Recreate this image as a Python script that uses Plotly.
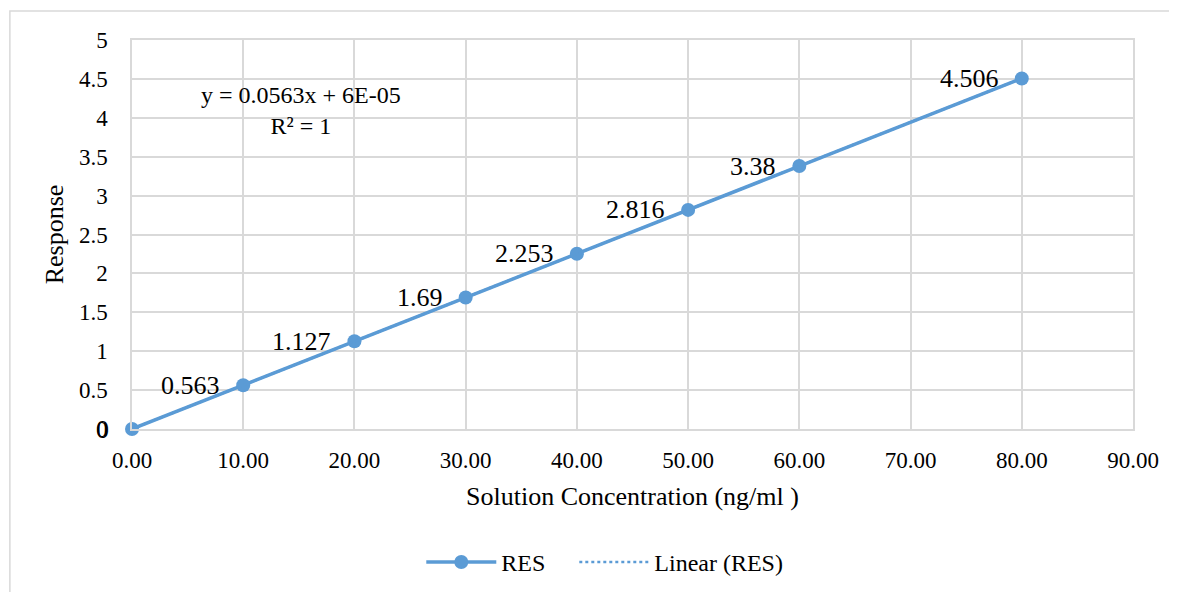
import numpy as np
import plotly.graph_objects as go

concentration = [0, 10, 20, 30, 40, 50, 60, 80]
response = [0, 0.563, 1.127, 1.69, 2.253, 2.816, 3.38, 4.506]
point_labels = ["0", "0.563", "1.127", "1.69", "2.253", "2.816", "3.38", "4.506"]
series_name = "RES"
trend_name = "Linear (RES)"
equation_text = "y = 0.0563x + 6E-05<br>R² = 1"

slope, intercept = np.polyfit(concentration, response, 1)
trend_x = [min(concentration), max(concentration)]
trend_y = [slope * v + intercept for v in trend_x]

FONT = "Liberation Serif, Times New Roman, serif"
BLUE = "#5b9bd5"
GRID = "#d9d9d9"

fig = go.Figure()
fig.add_trace(go.Scatter(
    x=concentration, y=response, mode="lines+markers",
    name=series_name + "\u00a0" * 4, cliponaxis=False,
    line=dict(color=BLUE, width=3.5),
    marker=dict(size=14, color=BLUE),
))
fig.add_trace(go.Scatter(
    x=trend_x, y=trend_y, mode="lines", name=trend_name, cliponaxis=False,
    line=dict(color=BLUE, width=2.5, dash="dot"),
))

for xv, yv, lab in zip(concentration, response, point_labels):
    fig.add_annotation(
        x=xv, y=yv, xref="x", yref="y", text=lab, showarrow=False,
        xanchor="right", yanchor="middle", xshift=-21,
        font=dict(size=26, family=FONT, color="#000000"),
    )

fig.add_annotation(
    x=15.2, y=4.09, xref="x", yref="y", text=equation_text, showarrow=False,
    font=dict(size=24, family=FONT, color="#000000"), align="center",
)

# outer chart border
fig.add_shape(type="rect", xref="paper", yref="paper",
              x0=-0.122, x1=1.06, y0=-0.5, y1=1.0746,
              line=dict(color=GRID, width=1.5), layer="below")

fig.update_layout(
    width=1177, height=592,
    margin=dict(l=124, r=52, t=32, b=171),
    paper_bgcolor="white", plot_bgcolor="white",
    font=dict(family=FONT, size=23, color="#000000"),
    showlegend=True,
    legend=dict(orientation="h", x=0.289, xanchor="left", y=-0.285, yanchor="top",
                itemwidth=70,
                font=dict(size=24, family=FONT)),
)
fig.update_xaxes(
    range=[0, 90], dtick=10, tick0=0, tickformat=".2f",
    showgrid=True, gridcolor=GRID, gridwidth=1.5,
    showline=True, linecolor=GRID, linewidth=1.5, mirror=True,
    zeroline=False, ticks="", ticklabelstandoff=10,
    tickfont=dict(size=23, family=FONT),
    title=dict(text="Solution Concentration (ng/ml )", font=dict(size=26, family=FONT), standoff=14),
)
fig.update_yaxes(
    range=[0, 5], dtick=0.5, tick0=0,
    showgrid=True, gridcolor=GRID, gridwidth=1.5,
    showline=True, linecolor=GRID, linewidth=1.5, mirror=True,
    zeroline=False, ticks="", ticklabelstandoff=18,
    tickfont=dict(size=23, family=FONT),
    title=dict(text="Response", font=dict(size=26, family=FONT), standoff=8),
)

fig.write_html("out.html")
